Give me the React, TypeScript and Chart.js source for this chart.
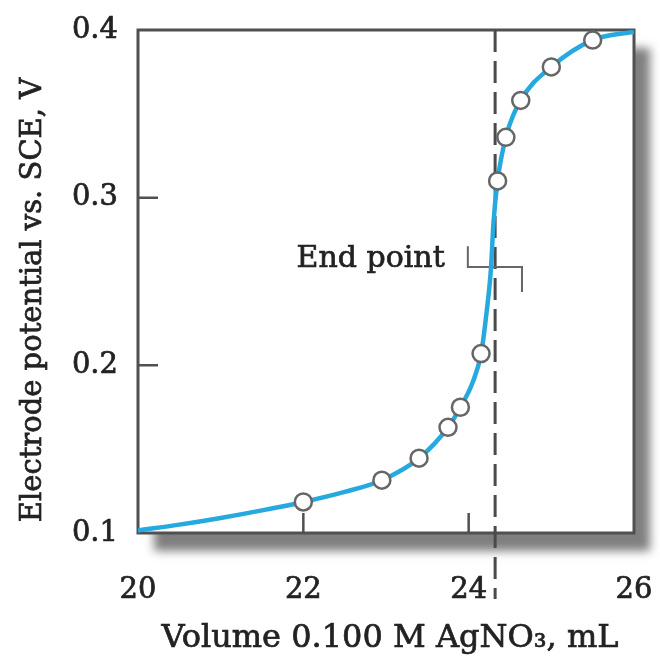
import React, { useEffect, useRef } from "react";
import { Chart, registerables } from "chart.js";

Chart.register(...registerables);

// ---- data ----
const xTickValues = [20, 22, 24, 26];
const yTickValues = [0.1, 0.2, 0.3, 0.4];
const yTickLabels = ["0.1", "0.2", "0.3", "0.4"];

// measured points (open circles)
const markerVolumes = [22.0, 22.95, 23.4, 23.75, 23.9, 24.15, 24.35, 24.45, 24.63, 25.0, 25.5];
const markerPotentials = [0.1185, 0.1315, 0.1446, 0.163, 0.175, 0.207, 0.31, 0.336, 0.358, 0.378, 0.394];

// smooth titration curve
const curveVolumes = [20.0, 20.5, 21.0, 21.5, 22.0, 22.5, 22.95, 23.4, 23.75, 23.9, 24.05, 24.15, 24.22, 24.27, 24.3, 24.35, 24.45, 24.63, 25.0, 25.5, 26.0];
const curvePotentials = [0.1015, 0.105, 0.109, 0.1135, 0.1185, 0.1245, 0.1315, 0.1446, 0.163, 0.175, 0.19, 0.207, 0.233, 0.258, 0.285, 0.31, 0.336, 0.358, 0.378, 0.394, 0.399];

// end point annotation
const endPointVolume = 24.32;
const endPointLabel = "End point";
const bracketVolumes = [23.99, 24.645];
const bracketPotentials = [0.271, 0.2586, 0.2437]; // top of left arm, bar, bottom of right arm
const labelVolume = 23.71;

const xTitle = "Volume 0.100 M AgNO\u2083, mL";
const yTitle = "Electrode potential vs. SCE, V";

const FONT = "'DejaVu Serif', 'Liberation Serif', serif";
const TEXT = "#222";
const FRAME = "#505050";

function drawText(ctx: any, s: string, x: number, y: number) {
  ctx.lineWidth = 0.7;
  ctx.strokeStyle = TEXT;
  ctx.strokeText(s, x, y);
  ctx.fillText(s, x, y);
}

const decorPlugin = {
  id: "decor",
  beforeDraw(chart: any) {
    const { ctx, chartArea: a, width, height } = chart;
    ctx.save();
    ctx.fillStyle = "#fff";
    ctx.fillRect(0, 0, width, height);
    ctx.shadowColor = "rgba(0,0,0,0.5)";
    ctx.shadowBlur = 9;
    ctx.shadowOffsetX = 16;
    ctx.shadowOffsetY = 18;
    ctx.fillStyle = "#fff";
    ctx.fillRect(a.left, a.top, a.right - a.left, a.bottom - a.top);
    ctx.restore();
  },
  beforeDatasetsDraw(chart: any) {
    const { ctx, chartArea: a, scales } = chart;
    const xs = scales.x;
    const ys = scales.y;
    ctx.save();
    // frame
    ctx.strokeStyle = FRAME;
    ctx.lineWidth = 3;
    ctx.strokeRect(a.left, a.top, a.right - a.left, a.bottom - a.top);
    // inner tick marks
    ctx.lineWidth = 2.5;
    ctx.beginPath();
    xTickValues.slice(1, -1).forEach((v) => {
      const px = xs.getPixelForValue(v);
      ctx.moveTo(px, a.bottom);
      ctx.lineTo(px, a.bottom - 20);
    });
    yTickValues.slice(1, -1).forEach((v) => {
      const py = ys.getPixelForValue(v);
      ctx.moveTo(a.left, py);
      ctx.lineTo(a.left + 20, py);
    });
    ctx.stroke();
    // dashed end point line
    const ex = xs.getPixelForValue(endPointVolume);
    ctx.setLineDash([22, 9]);
    ctx.lineWidth = 3;
    ctx.strokeStyle = "#4a4a4a";
    ctx.beginPath();
    ctx.moveTo(ex, a.top);
    ctx.lineTo(ex, a.bottom + 66);
    ctx.stroke();
    ctx.setLineDash([]);
    // bracket
    const bl = xs.getPixelForValue(bracketVolumes[0]);
    const br = xs.getPixelForValue(bracketVolumes[1]);
    const bt = ys.getPixelForValue(bracketPotentials[0]);
    const bm = ys.getPixelForValue(bracketPotentials[1]);
    const bb = ys.getPixelForValue(bracketPotentials[2]);
    ctx.strokeStyle = "#666";
    ctx.lineWidth = 2;
    ctx.beginPath();
    ctx.moveTo(bl, bt);
    ctx.lineTo(bl, bm);
    ctx.lineTo(br, bm);
    ctx.lineTo(br, bb);
    ctx.stroke();
    // label
    ctx.fillStyle = TEXT;
    ctx.font = `30px ${FONT}`;
    ctx.textAlign = "right";
    ctx.textBaseline = "alphabetic";
    drawText(ctx, endPointLabel, xs.getPixelForValue(labelVolume), bm);
    ctx.restore();
  },
  afterDraw(chart: any) {
    const { ctx, chartArea: a } = chart;
    ctx.save();
    ctx.fillStyle = TEXT;
    ctx.textAlign = "center";
    ctx.textBaseline = "alphabetic";
    ctx.font = `32px ${FONT}`;
    drawText(ctx, xTitle, (a.left + a.right) / 2 + 4, 647);
    ctx.translate(33, 300);
    ctx.rotate(-Math.PI / 2);
    ctx.font = `29px ${FONT}`;
    ctx.textBaseline = "middle";
    drawText(ctx, yTitle, 0, 0);
    ctx.restore();
  },
};

const zeroPad = (s: any) => {
  s.paddingLeft = 0;
  s.paddingRight = 0;
  s.paddingTop = 0;
  s.paddingBottom = 0;
};

export default function App() {
  const ref = useRef<HTMLCanvasElement | null>(null);

  useEffect(() => {
    if (!ref.current) return;
    const chart = new Chart(ref.current, {
      type: "line",
      data: {
        datasets: [
          {
            type: "scatter",
            data: markerVolumes.map((v, i) => ({ x: v, y: markerPotentials[i] })),
            pointRadius: 8.5,
            pointBackgroundColor: "#ffffff",
            pointBorderColor: "#666",
            pointBorderWidth: 2.5,
            showLine: false,
          } as any,
          {
            type: "line",
            data: curveVolumes.map((v, i) => ({ x: v, y: curvePotentials[i] })),
            borderColor: "#25a9df",
            borderWidth: 4.5,
            pointRadius: 0,
            cubicInterpolationMode: "monotone",
            fill: false,
          } as any,
        ],
      },
      options: {
        animation: false,
        responsive: false,
        devicePixelRatio: 1,
        layout: { padding: { top: 30, right: 26, left: 0, bottom: 0 } },
        plugins: { legend: { display: false }, tooltip: { enabled: false } },
        scales: {
          x: {
            type: "linear",
            min: 20,
            max: 26,
            afterBuildTicks: (s: any) => {
              s.ticks = xTickValues.map((v) => ({ value: v }));
            },
            afterFit: (s: any) => {
              s.height = 123;
              zeroPad(s);
            },
            grid: { display: false, drawTicks: false },
            border: { display: false },
            ticks: {
              color: TEXT,
              textStrokeColor: TEXT,
              textStrokeWidth: 0.7,
              font: { family: FONT, size: 29 },
              padding: 40,
              maxRotation: 0,
              callback: (v: any) => String(v),
            },
          },
          y: {
            type: "linear",
            min: 0.1,
            max: 0.4,
            afterBuildTicks: (s: any) => {
              s.ticks = yTickValues.map((v) => ({ value: v }));
            },
            afterFit: (s: any) => {
              s.width = 138;
              zeroPad(s);
            },
            grid: { display: false, drawTicks: false },
            border: { display: false },
            ticks: {
              color: TEXT,
              textStrokeColor: TEXT,
              textStrokeWidth: 0.7,
              font: { family: FONT, size: 29 },
              padding: 20,
              callback: (v: any) => {
                const i = yTickValues.findIndex((t) => Math.abs(t - v) < 1e-6);
                return i >= 0 ? yTickLabels[i] : "";
              },
            },
          },
        },
      },
      plugins: [decorPlugin],
    });
    return () => chart.destroy();
  }, []);

  return (
    <div style={{ position: "fixed", left: 0, top: 0, width: 660, height: 656, background: "#fff" }}>
      <canvas ref={ref} width={660} height={656} style={{ width: 660, height: 656 }} />
    </div>
  );
}
